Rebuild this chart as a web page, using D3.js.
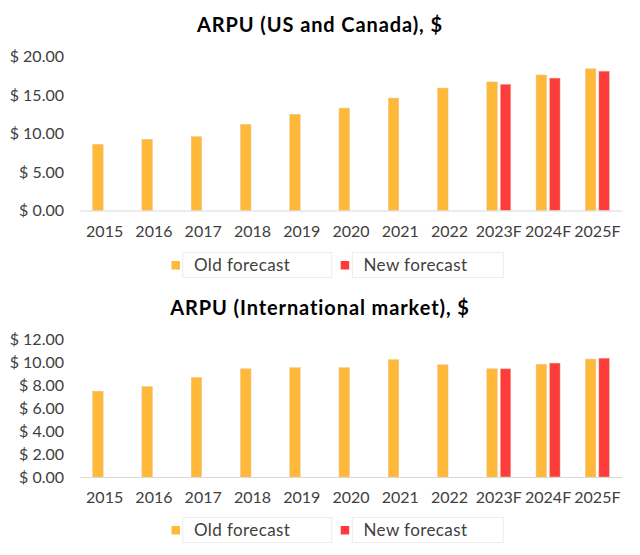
<!DOCTYPE html>
<html>
<head>
<meta charset="utf-8">
<script src="https://cdn.jsdelivr.net/npm/d3@7"></script>
<style>
  html, body { margin: 0; padding: 0; background: #fff; }
  svg { display: block; }
  text { font-family: "Lato", "Open Sans", sans-serif; }
</style>
</head>
<body>
<svg id="chart" width="640" height="555"></svg>
<script>
const categories = ["2015","2016","2017","2018","2019","2020","2021","2022","2023F","2024F","2025F"];
const seriesNames = ["Old forecast", "New forecast"];
const usOld   = [8.6, 9.25, 9.6, 11.2, 12.5, 13.3, 14.6, 15.9, 16.7, 17.6, 18.4];
const usNew   = [null, null, null, null, null, null, null, null, 16.4, 17.2, 18.1];
const intlOld = [7.5, 7.9, 8.7, 9.45, 9.55, 9.55, 10.25, 9.8, 9.45, 9.85, 10.3];
const intlNew = [null, null, null, null, null, null, null, null, 9.45, 9.95, 10.38];
const usTicks   = [0, 5, 10, 15, 20];
const intlTicks = [0, 2, 4, 6, 8, 10, 12];
const colors = ["#FFB838", "#FF3C3C"];

const svg = d3.select("#chart");

function drawChart(cfg) {
  const g = svg.append("g");
  const x0 = d3.scaleBand().domain(categories).range([80, 622]).padding(0);
  const bw = x0.bandwidth();
  const x1 = d3.scaleBand().domain(seriesNames)
    .range([bw / 2 - 12, bw / 2 + 12]).paddingInner(0.22);
  const y = d3.scaleLinear().domain([0, cfg.max]).range([cfg.base, cfg.top]);

  // title
  g.append("text").attr("x", 320).attr("y", cfg.titleY)
    .attr("text-anchor", "middle").attr("font-weight", "bold")
    .attr("font-size", 20).attr("letter-spacing", 0.9)
    .attr("fill", "#000").text(cfg.title);

  // bars
  const series = [cfg.old, cfg.neu];
  series.forEach((vals, si) => {
    g.append("g").selectAll("rect")
      .data(categories.map((c, i) => ({c, v: vals[i]})).filter(d => d.v != null))
      .join("rect")
      .attr("x", d => x0(d.c) + x1(seriesNames[si]))
      .attr("width", x1.bandwidth())
      .attr("y", d => y(d.v))
      .attr("height", d => y(0) - y(d.v))
      .attr("fill", colors[si])
      .attr("stroke", "#e6c9a0").attr("stroke-width", 0.5);
  });

  // y axis
  const yAxis = d3.axisLeft(y).tickValues(cfg.ticks).tickSize(0).tickPadding(0)
    .tickFormat(d => "$ " + d.toFixed(2));
  const ya = g.append("g").attr("transform", "translate(64,0)").call(yAxis);
  ya.select(".domain").remove();
  ya.selectAll("text").attr("font-size", 16).attr("fill", "#404040")
    .style("font-family", "Lato, sans-serif");

  // x axis
  const xAxis = d3.axisBottom(x0).tickSize(0).tickPadding(0);
  const xa = g.append("g").attr("transform", `translate(0,${cfg.base})`).call(xAxis);
  xa.select(".domain").attr("stroke", "#d9d9d9").attr("stroke-width", 1.2);
  xa.selectAll("text").attr("font-size", 16).attr("fill", "#404040")
    .attr("dy", 0).attr("y", cfg.xLabelDy)
    .style("font-family", "Lato, sans-serif");

  // legend
  const lg = g.append("g").attr("transform", `translate(0,${cfg.legendY})`);
  const items = [
    {name: seriesNames[0], sx: 171.5, bx: 182.7, bw: 149, tx: 194},
    {name: seriesNames[1], sx: 340.7, bx: 352.3, bw: 151, tx: 363.5}
  ];
  items.forEach((it, i) => {
    lg.append("rect").attr("x", it.bx).attr("y", -12.5).attr("width", it.bw).attr("height", 25)
      .attr("fill", "none").attr("stroke", "#ececec").attr("stroke-width", 1);
    lg.append("rect").attr("x", it.sx).attr("y", -4).attr("width", 8.5).attr("height", 8.5)
      .attr("fill", colors[i]);
    lg.append("text").attr("x", it.tx).attr("y", 0).attr("dy", "0.35em")
      .attr("font-size", 17).attr("letter-spacing", 0.4)
      .attr("fill", "#404040").text(it.name);
  });
}

drawChart({
  title: "ARPU (US and Canada), $", titleY: 32,
  old: usOld, neu: usNew, max: 20, ticks: usTicks,
  base: 210.5, top: 56.5, xLabelDy: 26, legendY: 265
});
drawChart({
  title: "ARPU (International market), $", titleY: 315,
  old: intlOld, neu: intlNew, max: 12, ticks: intlTicks,
  base: 477, top: 339.6, xLabelDy: 26, legendY: 530
});
</script>
</body>
</html>
